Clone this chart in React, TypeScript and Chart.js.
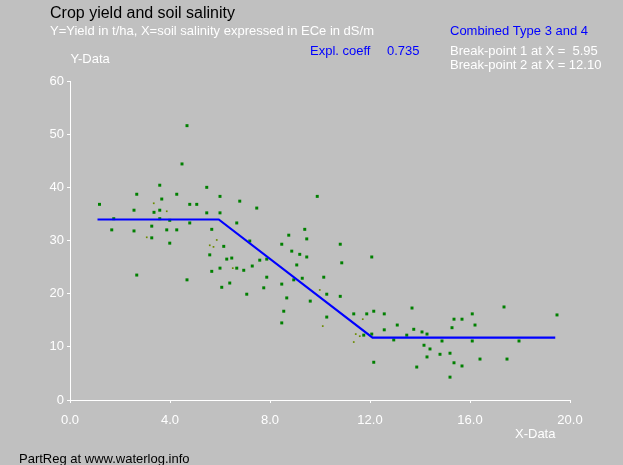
import React, { useEffect, useRef } from "react";
import { Chart, registerables } from "chart.js";

Chart.register(...registerables);

// Observed data (soil salinity ECe in dS/m vs yield t/ha)
const salinityX: number[] = [
  4.68, 4.48, 3.59, 2.67, 4.27, 3.67, 1.18, 4.79, 5.07, 5.47, 6.0, 2.56, 3.59, 3.36, 5.47, 6.0,
  6.79, 1.75, 3.59, 3.99, 4.79, 1.67, 2.56, 3.27, 3.87, 4.27, 5.67, 6.67, 3.27, 3.99, 6.15, 5.59,
  6.47, 6.27, 6.67, 6.0, 5.67, 2.67, 4.68, 6.39, 6.07, 9.89, 7.47, 8.75, 9.39, 9.47, 7.19, 8.47,
  10.81, 8.87, 9.19, 9.47, 7.59, 7.87, 12.07, 10.87, 9.07, 7.29, 6.95, 7.87, 10.15, 8.95, 9.29,
  8.47, 7.75, 7.07, 8.67, 10.27, 10.81, 9.61, 8.55, 8.47, 10.27, 11.35, 11.87, 12.15, 12.07,
  11.75, 12.57, 13.68, 17.36, 19.48, 15.36, 15.68, 16.09, 16.2, 12.57, 13.09, 13.75, 14.08,
  14.28, 13.47, 15.28, 12.95, 14.88, 16.09, 17.96, 14.16, 14.4, 14.8, 15.2, 14.28, 16.4, 17.48,
  15.36, 15.68, 12.15, 13.87, 15.2,
];
const yieldY: number[] = [
  51.6, 44.4, 40.4, 38.7, 38.7, 37.8, 36.8, 36.8, 36.8, 40.0, 38.3, 35.7, 35.7, 35.3, 35.2, 35.2,
  37.4, 34.1, 34.1, 33.8, 33.3, 32.0, 31.8, 32.7, 32.0, 32.0, 32.1, 33.3, 30.5, 29.5, 28.9, 27.3,
  26.7, 26.5, 24.8, 24.8, 24.2, 23.5, 22.6, 22.0, 21.2, 38.3, 36.1, 31.0, 32.1, 30.3, 29.9, 29.3,
  29.3, 28.0, 27.4, 26.9, 26.3, 26.5, 26.9, 25.8, 25.4, 25.2, 24.4, 23.1, 23.1, 22.6, 22.9,
  21.8, 21.1, 19.9, 19.2, 19.9, 19.5, 18.6, 16.7, 14.5, 15.6, 16.2, 16.2, 16.7, 12.4,
  12.2, 16.2, 17.3, 17.5, 16.0, 15.2, 15.2, 16.2, 14.1, 13.2, 14.1, 13.3, 12.8,
  12.4, 12.2, 13.6, 11.3, 11.1, 11.1, 11.1, 10.3, 9.6, 8.6, 8.8, 8.1, 7.7, 7.7,
  7.0, 6.4, 7.1, 6.2, 4.3,
];

// Faint / partially drawn observations
const faintX: number[] = [3.87, 3.35, 3.07, 5.59, 5.74, 5.87, 6.51, 9.99, 10.11, 11.71, 11.43, 11.59, 11.35];
const faintY: number[] = [35.5, 37.0, 30.6, 29.1, 28.8, 30.1, 24.8, 20.7, 13.9, 15.2, 12.4, 12.0, 10.9];

// Segmented regression line (break-points at 5.95 and 12.10)
const fitX: number[] = [1.1, 5.95, 12.1, 19.41];
const fitY: number[] = [33.95, 33.95, 11.75, 11.75];

const xTicks: number[] = [0, 4, 8, 12, 16, 20];
const yTicks: number[] = [0, 10, 20, 30, 40, 50, 60];

const FONT = "'Liberation Sans', Arial, sans-serif";

const textPlugin = {
  id: "texts",
  afterDraw(chart: any) {
    const ctx = chart.ctx as CanvasRenderingContext2D;
    ctx.save();
    ctx.textBaseline = "alphabetic";
    ctx.textAlign = "left";
    const put = (t: string, x: number, y: number, color: string, size: number) => {
      ctx.font = `${size}px ${FONT}`;
      ctx.fillStyle = color;
      ctx.fillText(t, x, y);
    };
    put("Crop yield and soil salinity", 50, 17.5, "#000000", 16);
    put("Y=Yield in t/ha, X=soil salinity expressed in ECe in dS/m", 50, 34.5, "#ffffff", 13);
    put("Combined Type 3 and 4", 450, 35, "#0000ff", 13);
    put("Expl. coeff", 310, 54.5, "#0000ff", 13);
    put("0.735", 387, 54.5, "#0000ff", 13);
    put("Break-point 1 at X =  5.95", 450, 54.5, "#ffffff", 13);
    put("Break-point 2 at X = 12.10", 450, 68.5, "#ffffff", 13);
    put("Y-Data", 70.5, 63.3, "#ffffff", 13);
    put("X-Data", 515, 437.5, "#ffffff", 13);
    put("PartReg at www.waterlog.info", 19, 463, "#000000", 13);
    ctx.restore();
  },
};

const bgPlugin = {
  id: "bg",
  beforeDraw(chart: any) {
    const ctx = chart.ctx as CanvasRenderingContext2D;
    ctx.save();
    ctx.fillStyle = "#c0c0c0";
    ctx.fillRect(0, 0, chart.width, chart.height);
    ctx.restore();
  },
};

export default function App() {
  const ref = useRef<HTMLCanvasElement | null>(null);

  useEffect(() => {
    if (!ref.current) return;
    const pts = salinityX.map((x, i) => ({ x, y: yieldY[i] }));
    const faint = faintX.map((x, i) => ({ x, y: faintY[i] }));
    const fit = fitX.map((x, i) => ({ x, y: fitY[i] }));
    const chart = new Chart(ref.current, {
      type: "scatter",
      data: {
        datasets: [
          {
            label: "fit",
            data: fit,
            showLine: true,
            borderColor: "#0000ff",
            borderWidth: 2.2,
            pointRadius: 0,
            fill: false,
          } as any,
          {
            label: "data",
            data: pts,
            pointStyle: "rect",
            pointRadius: 2.1,
            backgroundColor: "#008000",
            borderWidth: 0,
          },
          {
            label: "faint",
            data: faint,
            pointStyle: "rect",
            pointRadius: 1.2,
            backgroundColor: "#6b8a00",
            borderWidth: 0,
          },
        ],
      },
      options: {
        responsive: false,
        animation: false,
        events: [],
        layout: { padding: { left: 0, top: 81, right: 53, bottom: 30 } },
        plugins: { legend: { display: false }, tooltip: { enabled: false }, title: { display: false } },
        scales: {
          x: {
            type: "linear",
            min: 0,
            max: 20,
            afterFit: (s: any) => {
              s.height = 35;
            },
            afterBuildTicks: (s: any) => {
              s.ticks = xTicks.map((v) => ({ value: v }));
            },
            ticks: {
              color: "#ffffff",
              font: { family: FONT, size: 13 },
              padding: 10,
              maxRotation: 0,
              autoSkip: false,
              callback: (v: any) => Number(v).toFixed(1),
            },
            grid: { drawOnChartArea: false, tickLength: 3, tickColor: "#ffffff", color: "#ffffff" },
            border: { display: true, color: "#ffffff", width: 1 },
          },
          y: {
            type: "linear",
            min: 0,
            max: 60,
            afterFit: (s: any) => {
              s.width = 70;
            },
            afterBuildTicks: (s: any) => {
              s.ticks = yTicks.map((v) => ({ value: v }));
            },
            ticks: {
              color: "#ffffff",
              font: { family: FONT, size: 13 },
              padding: 3,
              autoSkip: false,
              callback: (v: any) => String(v),
            },
            grid: { drawOnChartArea: false, tickLength: 3, tickColor: "#ffffff", color: "#ffffff" },
            border: { display: true, color: "#ffffff", width: 1 },
          },
        },
      },
      plugins: [bgPlugin, textPlugin],
    });
    return () => chart.destroy();
  }, []);

  return (
    <div style={{ position: "fixed", left: 0, top: 0, width: 623, height: 465, background: "#c0c0c0" }}>
      <canvas ref={ref} width={623} height={465} style={{ display: "block", width: 623, height: 465 }} />
    </div>
  );
}
